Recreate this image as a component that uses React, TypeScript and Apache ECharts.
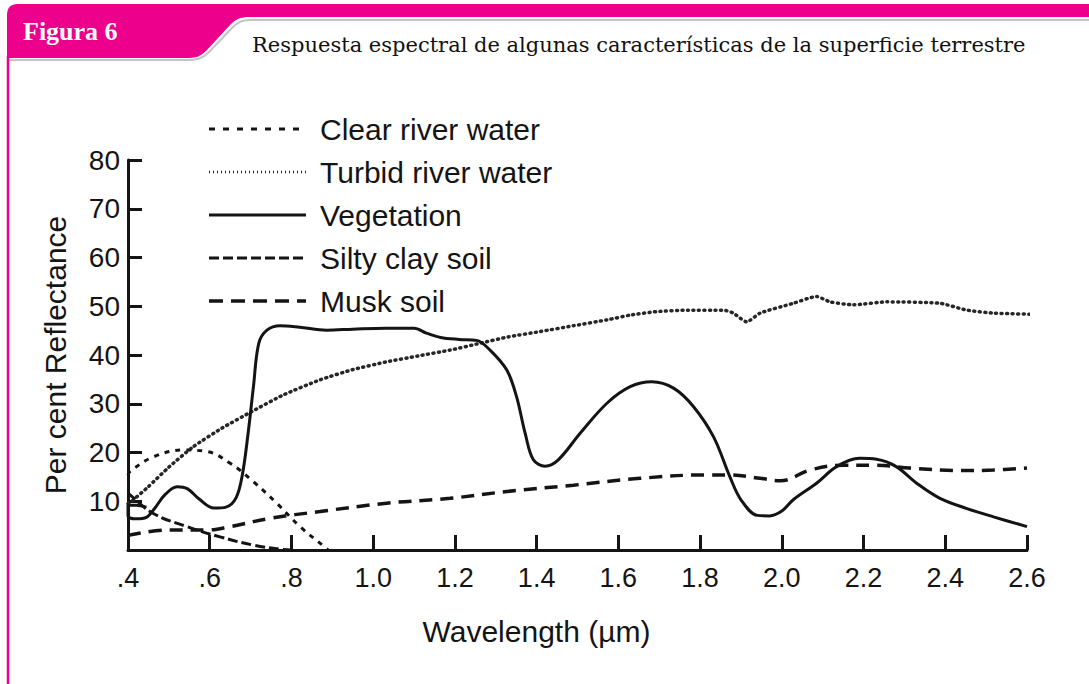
import React, { useEffect, useRef } from "react";
import * as echarts from "echarts";

// ---- Data (wavelength µm, per cent reflectance) ----
const seriesNames = [
  "Clear river water",
  "Turbid river water",
  "Vegetation",
  "Silty clay soil",
  "Musk soil",
];

const xTicks = [0.4, 0.6, 0.8, 1.0, 1.2, 1.4, 1.6, 1.8, 2.0, 2.2, 2.4, 2.6];
const yTicks = [10, 20, 30, 40, 50, 60, 70, 80];

const clearRiverWater: number[][] = [
  [0.4, 15.3], [0.405, 16.1], [0.462, 19.1], [0.535, 20.5], [0.593, 20.2],
  [0.65, 17.8], [0.707, 14.0], [0.764, 9.6], [0.821, 4.8], [0.886, 0.3], [0.89, 0],
];

const turbidRiverWater: number[][] = [
  [0.4, 9.5], [0.413, 10.3], [0.45, 13], [0.5, 17], [0.56, 21.2], [0.63, 25],
  [0.703, 28.4], [0.78, 31.8], [0.87, 34.9], [0.95, 37], [1.033, 38.6],
  [1.11, 39.8], [1.188, 41.0], [1.261, 42.4], [1.33, 43.7], [1.408, 44.8],
  [1.49, 46.0], [1.572, 47.2], [1.63, 48.2], [1.694, 48.9], [1.77, 49.2],
  [1.857, 49.2], [1.881, 48.6], [1.914, 46.8], [1.947, 48.6], [2.028, 50.6],
  [2.085, 52.0], [2.118, 50.9], [2.175, 50.3], [2.257, 50.9], [2.387, 50.6],
  [2.453, 49.2], [2.518, 48.6], [2.64, 48.3],
];

const vegetation: number[][] = [
  [0.445, 8.8], [0.42, 9.2], [0.4, 9.2], [0.4, 7.0], [0.42, 6.4], [0.445, 6.7],
  [0.465, 8.5], [0.49, 11.3], [0.52, 13.0], [0.545, 12.6], [0.575, 10.4],
  [0.61, 8.6], [0.64, 8.8], [0.665, 10.8], [0.68, 15.5], [0.694, 24],
  [0.707, 33.5], [0.72, 42.4], [0.74, 45.1], [0.772, 46.0], [0.82, 45.7],
  [0.886, 45.1], [0.95, 45.3], [1.03, 45.5], [1.1, 45.5], [1.13, 44.5],
  [1.165, 43.6], [1.21, 43.2], [1.253, 43.0], [1.286, 41.0], [1.327, 36.9],
  [1.351, 31.4], [1.372, 23.9], [1.392, 18.5], [1.421, 17.2], [1.453, 18.5],
  [1.506, 23.9], [1.572, 30.1], [1.629, 33.5], [1.682, 34.5], [1.735, 33.2],
  [1.784, 29.4], [1.833, 23.2], [1.873, 15.0], [1.9, 10.3], [1.94, 7.1],
  [1.97, 7.0], [2.0, 8.0], [2.028, 10.3], [2.085, 13.7], [2.134, 17.1],
  [2.19, 18.8], [2.232, 18.6], [2.28, 17.1], [2.33, 13.7], [2.387, 10.6],
  [2.453, 8.5], [2.518, 6.8], [2.6, 4.8],
];

const siltyClaySoil: number[][] = [
  [0.4, 11.8], [0.405, 11.3], [0.462, 7.5], [0.544, 4.8], [0.625, 2.7],
  [0.707, 1.0], [0.78, 0.1], [0.8, 0],
];

const muskSoil: number[][] = [
  [0.4, 3.0], [0.503, 4.1], [0.593, 4.1], [0.65, 4.8], [0.748, 6.5], [0.87, 7.9],
  [1.033, 9.6], [1.188, 10.6], [1.327, 12.0], [1.49, 13.3], [1.653, 14.7],
  [1.816, 15.4], [1.873, 15.4], [1.947, 14.7], [1.996, 14.2], [2.069, 16.4],
  [2.151, 17.4], [2.232, 17.4], [2.314, 16.8], [2.436, 16.3], [2.518, 16.4],
  [2.6, 16.8],
];

const figureLabel = "Figura 6";
const titleText =
  "Respuesta espectral de algunas características de la superficie terrestre";

const MAGENTA = "#EC008C";
const INK = "#141414";

// line styles per series (plot) and for legend samples
const plotStyles: any[] = [
  { type: [5, 6], width: 3 },
  { type: [1, 4.5], width: 3.5, cap: "round", color: "#262626" },
  { type: "solid", width: 3 },
  { type: [10, 4], width: 3 },
  { type: [13, 8], width: 3.5 },
];
const legendDash: any[] = [[6, 8], [1, 3], null, [10, 4], [14, 8]];
const legendWidth = [3, 2.5, 3, 3, 3.5];

let shapesRegistered = false;
function registerShapes() {
  if (shapesRegistered) return;
  shapesRegistered = true;
  echarts.graphic.registerShape(
    "headerTab",
    echarts.graphic.extendPath(
      "M7,15 Q7,4 18,4 L1089,4 L1089,17 L250,17 C240,17 236,19 230,25 L207,50 C200,57 196,58 186,58 L7,58 Z",
      {}
    )
  );
  echarts.graphic.registerShape(
    "headerShadow",
    echarts.graphic.extendPath(
      "M9,60 L188,60 C198,60 203,58 209,52 L233,27 C239,21 243,20 252,20 L1089,20",
      {}
    )
  );
}

export default function App() {
  const ref = useRef<HTMLDivElement>(null);

  useEffect(() => {
    if (!ref.current) return;
    registerShapes();
    const chart = echarts.init(ref.current, undefined, { renderer: "svg" });

    const sans = "Liberation Sans, Arial, sans-serif";
    const allData = [clearRiverWater, turbidRiverWater, vegetation, siltyClaySoil, muskSoil];
    const smoothing = [0.4, 0.2, 0.35, 0.4, 0.4];

    const series = seriesNames.map((name, i) => ({
      name,
      type: "line",
      data: allData[i],
      symbol: "none",
      showSymbol: false,
      smooth: smoothing[i],
      clip: i !== 1,
      lineStyle: { color: INK, ...plotStyles[i] },
      itemStyle: { color: INK },
      z: 3,
    }));

    // Legend drawn as graphic (line sample + label)
    const legendTop = 129;
    const legendStep = 43;
    const legendGraphics: any[] = [];
    seriesNames.forEach((name, i) => {
      const y = legendTop + i * legendStep;
      legendGraphics.push({
        type: "line",
        shape: { x1: 209, y1: y, x2: 306, y2: y },
        style: {
          stroke: i === 1 ? "#262626" : INK,
          lineWidth: legendWidth[i],
          lineDash: legendDash[i] || undefined,
        },
        z: 5,
      });
      legendGraphics.push({
        type: "text",
        x: 320,
        y,
        style: {
          text: name,
          fill: INK,
          font: "30px 'Liberation Sans', Arial, sans-serif",
          verticalAlign: "middle",
        },
        z: 5,
      });
    });

    chart.setOption({
      animation: false,
      backgroundColor: "#ffffff",
      grid: { left: 128, right: 62, top: 160, bottom: 134, containLabel: false },
      xAxis: {
        type: "value",
        min: xTicks[0],
        max: xTicks[xTicks.length - 1],
        interval: 0.2,
        name: "Wavelength (µm)",
        nameLocation: "middle",
        nameGap: 66,
        nameTextStyle: { fontFamily: sans, fontSize: 30, color: INK, padding: [0, 82, 0, 0] },
        axisLine: { show: true, lineStyle: { color: INK, width: 3 } },
        axisTick: { show: true, inside: true, length: 15, lineStyle: { color: INK, width: 3 } },
        axisLabel: {
          margin: 14,
          fontFamily: sans,
          fontSize: 27,
          color: INK,
          showMinLabel: true,
          showMaxLabel: true,
          formatter: (v: number) => (v < 0.95 ? "." + Math.round(v * 10) : v.toFixed(1)),
        },
        splitLine: { show: false },
      },
      yAxis: {
        type: "value",
        min: 0,
        max: yTicks[yTicks.length - 1],
        interval: 10,
        name: "Per cent Reflectance",
        nameLocation: "middle",
        nameGap: 58,
        nameTextStyle: { fontFamily: sans, fontSize: 30, color: INK },
        axisLine: { show: true, lineStyle: { color: INK, width: 3 } },
        axisTick: { show: true, inside: true, length: 14, lineStyle: { color: INK, width: 3 } },
        axisLabel: {
          margin: 8,
          fontFamily: sans,
          fontSize: 28,
          color: INK,
          formatter: (v: number) => (yTicks.indexOf(v) >= 0 ? String(v) : ""),
        },
        splitLine: { show: false },
      },
      graphic: [
        { type: "headerTab", x: 0, y: 0, style: { fill: MAGENTA }, z: 10 },
        {
          type: "headerShadow",
          x: 0,
          y: 0,
          style: { fill: "none", stroke: "#c4c4c4", lineWidth: 2 },
          z: 9,
        },
        {
          type: "line",
          shape: { x1: 8, y1: 56, x2: 8, y2: 684 },
          style: { stroke: MAGENTA, lineWidth: 2.5 },
          z: 10,
        },
        {
          type: "text",
          x: 23,
          y: 31,
          style: {
            text: figureLabel,
            fill: "#ffffff",
            font: "bold 26px 'Liberation Serif', 'DejaVu Serif', serif",
            verticalAlign: "middle",
          },
          z: 11,
        },
        {
          type: "text",
          x: 252,
          y: 45,
          style: {
            text: titleText,
            fill: "#111111",
            font: "21px 'DejaVu Serif', 'Liberation Serif', serif",
            verticalAlign: "middle",
          },
          z: 11,
        },
        ...legendGraphics,
      ],
      series,
    });

    return () => chart.dispose();
  }, []);

  return (
    <div
      ref={ref}
      style={{ position: "absolute", left: 0, top: 0, width: 1089, height: 684, background: "#fff" }}
    />
  );
}
